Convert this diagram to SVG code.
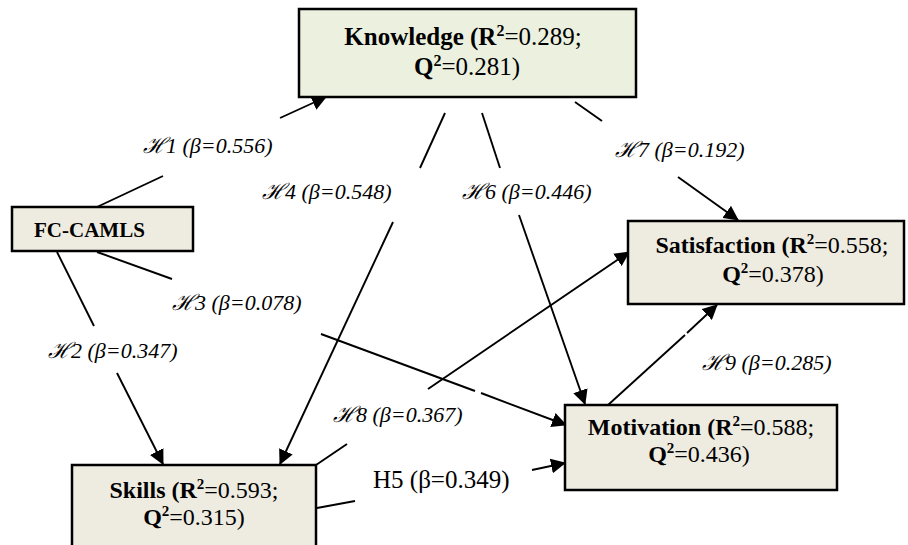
<svg xmlns="http://www.w3.org/2000/svg" width="908" height="545" viewBox="0 0 908 545">
  <defs>
    <marker id="arr" markerUnits="userSpaceOnUse" markerWidth="15" markerHeight="15" refX="14" refY="7.5" orient="auto">
      <path d="M0,0 L15,7.5 L0,15 z" fill="#000"/>
    </marker>
    <style>
      .box { fill: #EEECE1; stroke: #000; stroke-width: 2.5; }
      .kbox { fill: #EBF1DE; stroke: #000; stroke-width: 2.5; }
      .lbl { font-family: "Liberation Serif", "Times New Roman", serif; fill: #000; }
      .b { font-weight: bold; }
      .hl { font-family: "Liberation Serif", "Times New Roman", serif; font-style: italic; font-size: 22px; fill: #000; }
      .sc { font-family: "DejaVu Serif", "Liberation Serif", serif; font-style: italic; }
      .hr { font-family: "Liberation Serif", "Times New Roman", serif; font-size: 25px; fill: #000; }
      .ln { stroke: #000; stroke-width: 1.9; fill: none; }
      .ar { stroke: #000; stroke-width: 1.9; fill: none; marker-end: url(#arr); }
    </style>
  </defs>
  <rect width="908" height="545" fill="#fff"/>

  <g id="connectors">
    <!-- H1 -->
    <line class="ln" x1="97" y1="207" x2="163" y2="176"/>
    <line class="ar" x1="280" y1="118" x2="326" y2="97"/>
    <!-- H2 -->
    <line class="ln" x1="57" y1="252" x2="94" y2="326"/>
    <line class="ar" x1="117" y1="373" x2="163" y2="464"/>
    <!-- H3 -->
    <line class="ln" x1="97" y1="252" x2="172" y2="279"/>
    <line class="ln" x1="321" y1="334" x2="475" y2="391"/>
    <line class="ar" x1="481" y1="393" x2="566" y2="425"/>
    <!-- H4 -->
    <line class="ln" x1="445" y1="113" x2="420" y2="168"/>
    <line class="ar" x1="393" y1="222" x2="280" y2="464"/>
    <!-- H6 -->
    <line class="ln" x1="482" y1="113" x2="500" y2="168"/>
    <line class="ar" x1="519" y1="215" x2="585" y2="404"/>
    <!-- H7 -->
    <line class="ln" x1="575" y1="102" x2="602" y2="121"/>
    <line class="ar" x1="678" y1="177" x2="738" y2="220"/>
    <!-- H8 -->
    <line class="ln" x1="316" y1="465" x2="347" y2="444"/>
    <line class="ar" x1="428" y1="389" x2="629" y2="252"/>
    <!-- H9 -->
    <line class="ln" x1="608" y1="405" x2="685" y2="335"/>
    <line class="ar" x1="687" y1="333" x2="717" y2="305"/>
    <!-- H5 -->
    <line class="ln" x1="317" y1="508" x2="355" y2="501"/>
    <line class="ar" x1="532" y1="470" x2="565" y2="463"/>
  </g>

  <g id="labels">
    <text class="hl" x="143" y="153"><tspan class="sc">ℋ</tspan>1 (β=0.556)</text>
    <text class="hl" x="48" y="358"><tspan class="sc">ℋ</tspan>2 (β=0.347)</text>
    <text class="hl" x="172" y="310"><tspan class="sc">ℋ</tspan>3 (β=0.078)</text>
    <text class="hl" x="262" y="199"><tspan class="sc">ℋ</tspan>4 (β=0.548)</text>
    <text class="hl" x="462" y="199"><tspan class="sc">ℋ</tspan>6 (β=0.446)</text>
    <text class="hl" x="615" y="157"><tspan class="sc">ℋ</tspan>7 (β=0.192)</text>
    <text class="hl" x="333" y="422"><tspan class="sc">ℋ</tspan>8 (β=0.367)</text>
    <text class="hl" x="702" y="370"><tspan class="sc">ℋ</tspan>9 (β=0.285)</text>
    <text class="hr" x="373" y="488">H5 (β=0.349)</text>
  </g>

  <g id="knowledge">
    <rect class="kbox" x="299" y="9" width="337" height="88"/>
    <text class="lbl" font-size="25" text-anchor="middle" x="463" y="45"><tspan class="b">Knowledge (R</tspan><tspan class="b" font-size="16" dy="-9">2</tspan><tspan dy="9">=0.289;</tspan></text>
    <text class="lbl" font-size="25" text-anchor="middle" x="467" y="75"><tspan class="b">Q</tspan><tspan class="b" font-size="16" dy="-9">2</tspan><tspan dy="9">=0.281)</tspan></text>
  </g>

  <g id="fc-camls">
    <rect class="box" x="12" y="207" width="181" height="44"/>
    <text class="lbl b" font-size="21" x="34" y="237">FC-CAMLS</text>
  </g>

  <g id="satisfaction">
    <rect class="box" x="628" y="221" width="276" height="83"/>
    <text class="lbl" font-size="24" text-anchor="middle" x="772" y="253"><tspan class="b">Satisfaction (R</tspan><tspan class="b" font-size="15" dy="-9">2</tspan><tspan dy="9">=0.558;</tspan></text>
    <text class="lbl" font-size="24" text-anchor="middle" x="773" y="282"><tspan class="b">Q</tspan><tspan class="b" font-size="15" dy="-9">2</tspan><tspan dy="9">=0.378)</tspan></text>
  </g>

  <g id="motivation">
    <rect class="box" x="565" y="405" width="272" height="85"/>
    <text class="lbl" font-size="24" text-anchor="middle" x="701" y="435"><tspan class="b">Motivation (R</tspan><tspan class="b" font-size="15" dy="-9">2</tspan><tspan dy="9">=0.588;</tspan></text>
    <text class="lbl" font-size="24" text-anchor="middle" x="699" y="462"><tspan class="b">Q</tspan><tspan class="b" font-size="15" dy="-9">2</tspan><tspan dy="9">=0.436)</tspan></text>
  </g>

  <g id="skills">
    <rect class="box" x="72" y="465" width="244" height="95"/>
    <text class="lbl" font-size="24" text-anchor="middle" x="194" y="498"><tspan class="b">Skills (R</tspan><tspan class="b" font-size="15" dy="-9">2</tspan><tspan dy="9">=0.593;</tspan></text>
    <text class="lbl" font-size="24" text-anchor="middle" x="194" y="525"><tspan class="b">Q</tspan><tspan class="b" font-size="15" dy="-9">2</tspan><tspan dy="9">=0.315)</tspan></text>
  </g>
</svg>
